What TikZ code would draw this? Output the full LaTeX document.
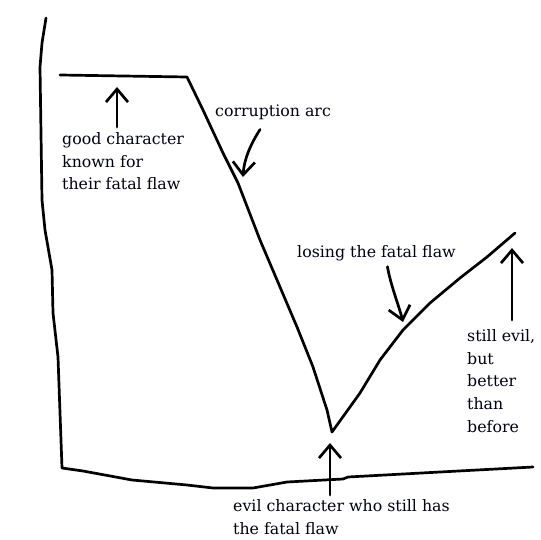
\documentclass[tikz,border=0pt]{standalone}
\usepackage{fontspec}
\setmainfont{DejaVu Serif}
\usetikzlibrary{arrows.meta}
\tikzset{
  stroke/.style={line width=2.7pt, line cap=round, line join=round, black},
  arr/.style={stroke, -{Straight Barb[length=13pt,width=22pt]}},
  lbl/.style={inner sep=0pt, align=left, font=\fontsize{15.8}{22.8}\selectfont, text=black!92!blue}
}
\begin{document}
\begin{tikzpicture}[x=1pt,y=-1pt]
\useasboundingbox[fill=white] (0,0) rectangle (540,540);
% axes
\draw[stroke] (46,18) -- (42,43) -- (40,67) -- (42,200) -- (45,230) -- (52,270) -- (53,313) -- (58,357) -- (62,468)
  -- (83,471) -- (132,480) -- (187,485) -- (213,488) -- (253,488) -- (287,482) -- (343,479) -- (348,477) -- (440,472) -- (533,467);
% arc
\draw[stroke] (60,75) -- (187,77) -- (203,110) -- (223,153) -- (238,183) -- (260,240) -- (280,287) -- (297,327)
  -- (313,367) -- (327,410) -- (332,432) -- (360,393) -- (380,360) -- (403,330) -- (430,303) -- (460,278) -- (487,257) -- (515,233);
% labels
\node[lbl, anchor=north west] (good) at (62,132) {good character\\known for\\their fatal flaw};
\node[lbl, anchor=base west] (corr) at (215,117) {corruption arc};
\node[lbl, anchor=base west] (lose) at (297,257) {losing the fatal flaw};
\node[lbl, anchor=north west] (still) at (467,329) {still evil,\\but\\better\\than\\before};
\node[lbl, anchor=north west] (evil) at (233,499) {evil character who still has\\the fatal flaw};
% arrow tips
\coordinate (gtip) at (117,87);
\coordinate (ctip) at (243,177);
\coordinate (ltip) at (403,322);
\coordinate (stip) at (512,248);
\coordinate (etip) at (330,443);
% arrows
\draw[arr] (good.north -| gtip) ++(0,-5) -- (gtip);
\draw[arr] (corr.south) ++(-13,9) .. controls +(-9,14) and +(1,-18) .. (ctip);
\draw[arr] (lose.south) ++(11,6) .. controls +(3,18) and +(-4,-16) .. (ltip);
\draw[arr] (still.north -| stip) ++(0,-9) -- (stip);
\draw[arr] (evil.north -| etip) ++(0,-4) -- (etip);
\end{tikzpicture}
\end{document}
